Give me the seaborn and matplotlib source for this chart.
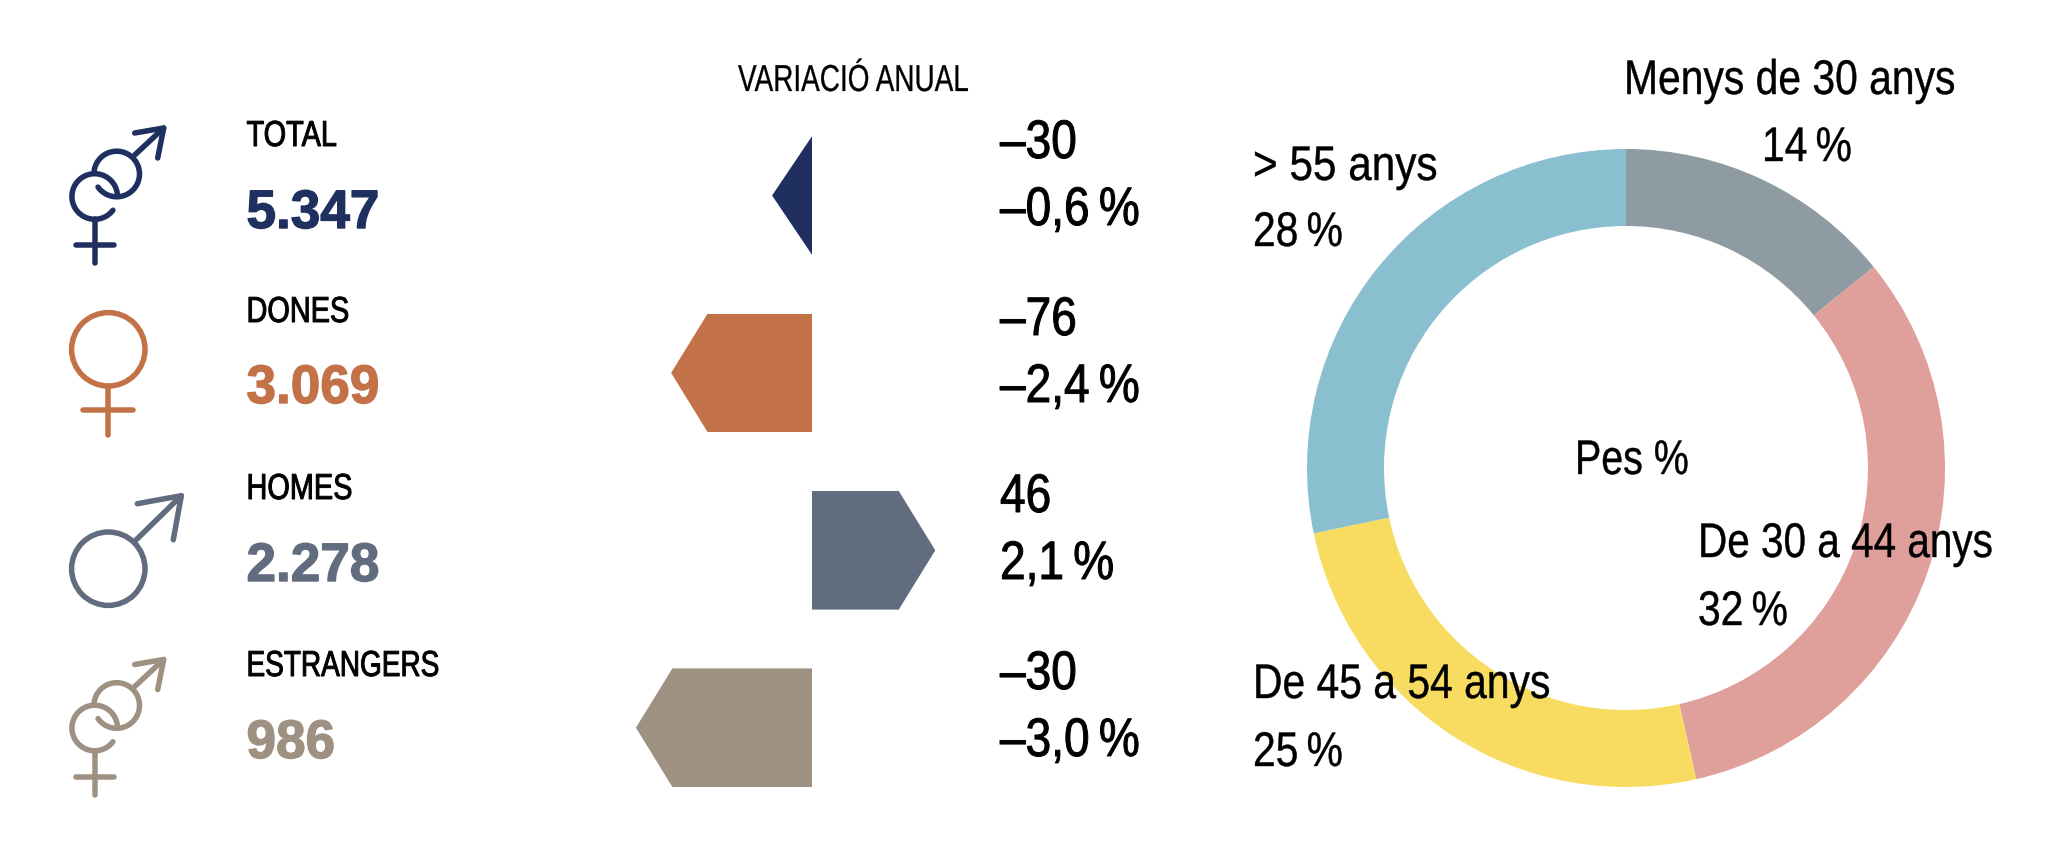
import numpy as np
import pandas as pd
import matplotlib
matplotlib.use("Agg")
import matplotlib.pyplot as plt
from matplotlib.patches import Polygon, Circle
from matplotlib.patheffects import AbstractPathEffect
from matplotlib.transforms import Affine2D
import seaborn as sns

groups = ["TOTAL", "DONES", "HOMES", "ESTRANGERS"]
totals = ["5.347", "3.069", "2.278", "986"]
changes = ["\u201330", "\u201376", "46", "\u201330"]
change_pct = ["\u20130,6\u2009%", "\u20132,4\u2009%", "2,1\u2009%", "\u20133,0\u2009%"]
bar_lengths = [-0.68, -2.4, 2.1, -3.0]
group_colors = ["#1F2F5F", "#C37248", "#616C7F", "#9E9181"]

age_labels = ["Menys de 30 anys", "De 30 a 44 anys", "De 45 a 54 anys", "> 55 anys"]
age_shares = [14, 32, 25, 28]
age_colors = ["#8F9BA3", "#DF9F9B", "#F8DC62", "#8ABFCF"]

W, H = 2067, 850
sns.set_theme(style="white")
FONT = ["Liberation Sans", "DejaVu Sans"]
plt.rcParams["font.family"] = FONT

fig = plt.figure(figsize=(W / 100, H / 100), dpi=100, facecolor="white")


def px_axes(x0, y0, x1, y1, **kw):
    return fig.add_axes([x0 / W, 1 - y1 / H, (x1 - x0) / W, (y1 - y0) / H], **kw)


class Narrow(AbstractPathEffect):
    """Condense real text horizontally, with an optional thickening stroke."""

    def __init__(self, sx, stroke=0.0):
        super().__init__()
        self.sx, self.stroke = sx, stroke

    def draw_path(self, renderer, gc, tpath, affine, rgbFace=None):
        tr = Affine2D().scale(self.sx, 1) + affine
        if self.stroke > 0:
            gc0 = renderer.new_gc()
            gc0.copy_properties(gc)
            gc0.set_linewidth(self.stroke)
            gc0.set_foreground(rgbFace)
            gc0.set_joinstyle("round")
            renderer.draw_path(gc0, tpath, tr, rgbFace)
            gc0.restore()
        else:
            renderer.draw_path(gc, tpath, tr, rgbFace)


# ---- annual-change arrows
PX_PER_UNIT = 58.7
ROW = 177.4
ZERO_X, ROW0_Y = 812, 195.5
BAR_H = 118.6 / ROW
HEAD = 36.5 / PX_PER_UNIT
ax0, ay0, ax1, ay1 = 600, 100, 1000, 820
bar_ax = px_axes(ax0, ay0, ax1, ay1)
df = pd.DataFrame({"group": groups, "length": bar_lengths})
sns.barplot(data=df, x="length", y="group", hue="group", palette=group_colors,
            order=groups, hue_order=groups, width=BAR_H, saturation=1,
            dodge=False, legend=False, ax=bar_ax, linewidth=0)
bar_ax.set_xlim((ax0 - ZERO_X) / PX_PER_UNIT, (ax1 - ZERO_X) / PX_PER_UNIT)
bar_ax.set_ylim((ay1 - ROW0_Y) / ROW, (ay0 - ROW0_Y) / ROW)
bar_ax.axis("off")
for cont, length in zip(bar_ax.containers, bar_lengths):
    for bar in cont:
        if not np.isfinite(bar.get_width()) or bar.get_width() == 0:
            continue
        y0, y1 = bar.get_y(), bar.get_y() + bar.get_height()
        yc = (y0 + y1) / 2
        sign = np.sign(length)
        shoulder = 0 if abs(length) < 2 * HEAD else length - sign * HEAD
        clip = Polygon([(0, y0), (shoulder, y0), (length, yc), (shoulder, y1), (0, y1)],
                       closed=True, transform=bar_ax.transData)
        bar.set_clip_path(clip)

# ---- doughnut
CX, CY, R = 1626, 468, 319
pie_ax = px_axes(CX - R, CY - R, CX + R, CY + R)
pie_ax.pie(age_shares, colors=age_colors, startangle=90, counterclock=False,
           radius=1, wedgeprops=dict(width=77 / R, linewidth=0))
pie_ax.set_xlim(-1, 1)
pie_ax.set_ylim(-1, 1)
pie_ax.axis("off")

# ---- overlay in pixel coordinates: icons and text
ov = px_axes(0, 0, W, H, zorder=5)
ov.set_xlim(0, W)
ov.set_ylim(H, 0)
ov.axis("off")
ov.patch.set_alpha(0)

LW = 5.5 * 72 / 100


def stroke(xs, ys, color):
    ov.plot(xs, ys, color=color, lw=LW, solid_capstyle="round", solid_joinstyle="round")


def arc(cx, cy, r, a0, a1, color):
    t = np.radians(np.linspace(a0, a1, 200))
    stroke(cx + r * np.cos(t), cy - r * np.sin(t), color)


def ring(cx, cy, r, color):
    ov.add_patch(Circle((cx, cy), r, fill=False, edgecolor=color, lw=LW))


def venus(cx, cy, color):
    r = 36.7
    ring(cx, cy, r, color)
    stroke([cx, cx], [cy + r, cy + r + 49], color)
    stroke([cx - 25, cx + 25], [cy + r + 24, cy + r + 24], color)


def mars(cx, cy, color):
    ring(cx, cy, 36.7, color)
    stroke([cx + 28, cx + 73], [cy - 29, cy - 73], color)
    stroke([cx + 29, cx + 73, cx + 65], [cy - 65, cy - 73, cy - 29], color)


def combined(cx, cy, color):
    # interlocked rings: cx, cy is the centre of the lower-left ring
    r = 22.8
    arc(cx, cy, r, 7, 323, color)
    mx, my = cx + 22, cy - 22.5
    arc(mx, my, r, 215, 532, color)
    stroke([mx + 18, mx + 47], [my - 19, my - 46], color)
    stroke([mx + 18, mx + 47, mx + 41], [my - 41, my - 46, my - 16], color)
    stroke([cx, cx], [cy + r, cy + r + 44], color)
    stroke([cx - 19, cx + 19], [cy + r + 26, cy + r + 26], color)


combined(94.7, 196.5, group_colors[0])
venus(108.3, 349.3, group_colors[1])
mars(108.3, 568.7, group_colors[2])
combined(94.7, 728, group_colors[3])


def txt(x, y, s, size, sx, color="black", weight="normal", thick=0.0):
    t = ov.text(x, y, s, fontsize=size, color=color, fontweight=weight, ha="left",
                va="baseline", family=FONT)
    t.set_path_effects([Narrow(sx, thick)])


label_y = [146, 322, 499, 676]
label_sx = [0.80, 0.80, 0.80, 0.775]
total_y = [228, 403, 581, 758]
change_y = [158, 335, 512, 689]
pct_y = [225, 402, 579, 756]
for i in range(4):
    txt(246.5, label_y[i], groups[i], 26, label_sx[i], thick=0.7)
    txt(246.5, total_y[i], totals[i], 39, 0.98, color=group_colors[i], weight="bold", thick=1.0)
    txt(1000, change_y[i], changes[i], 39, 0.85, thick=0.7)
    txt(1000, pct_y[i], change_pct[i], 39, 0.85, thick=0.7)

txt(738, 91, "VARIACI\u00d3 ANUAL", 27, 0.745, thick=0.2)

AGE = 35
txt(1624, 94, age_labels[0], AGE, 0.84, thick=0.3)
txt(1762, 161, f"{age_shares[0]}\u2009%", AGE, 0.84, thick=0.3)
txt(1698, 557, age_labels[1], AGE, 0.833, thick=0.3)
txt(1698, 625, f"{age_shares[1]}\u2009%", AGE, 0.84, thick=0.3)
txt(1253, 698, age_labels[2], AGE, 0.84, thick=0.3)
txt(1253, 766, f"{age_shares[2]}\u2009%", AGE, 0.84, thick=0.3)
txt(1253, 180, age_labels[3], AGE, 0.87, thick=0.3)
txt(1253, 246, f"{age_shares[3]}\u2009%", AGE, 0.84, thick=0.3)
txt(1575, 474, "Pes %", AGE, 0.81, thick=0.3)

fig.savefig("out.png", dpi=100, facecolor="white")
